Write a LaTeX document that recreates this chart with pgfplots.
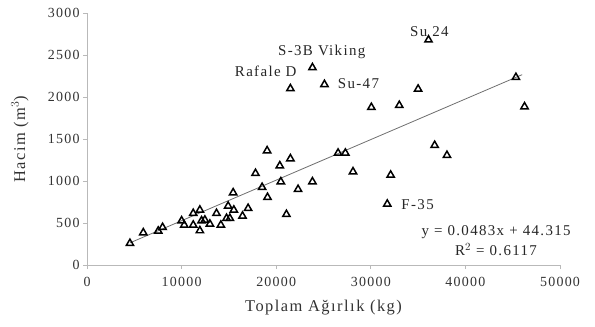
\documentclass[border=0pt]{standalone}
\usepackage{pgfplots}
\pgfplotsset{compat=1.18}
\usepackage{fontspec}
\setmainfont{Liberation Serif}[LetterSpace=9]
\definecolor{axgray}{RGB}{185,185,185}
\definecolor{trendgray}{RGB}{110,110,110}
\begin{document}
\begin{tikzpicture}[x=1bp,y=1bp]
\useasboundingbox (-87,-61) rectangle (508,265);
\begin{axis}[
  at={(0,0)}, anchor=south west,
  scale only axis,
  width=473bp, height=252bp,
  xmin=0, xmax=50000, ymin=0, ymax=3000,
  xtick={0,10000,20000,30000,40000,50000},
  ytick={0,500,1000,1500,2000,2500,3000},
  axis lines=left,
  axis line style={-, draw=axgray, line width=1pt},
  tick style={draw=axgray, line width=1pt},
  tick align=outside,
  major tick length=4bp,
  /pgf/number format/assume math mode=true,
  /pgf/number format/set thousands separator={},
  scaled ticks=false,
  ticklabel style={font=\fontsize{14}{16}\selectfont, text=black!80},
  xticklabel style={yshift=-5bp},
  xlabel={Toplam Ağırlık (kg)},
  ylabel={Hacim (m$^3$)},
  label style={font=\fontsize{16.5}{18}\selectfont, text=black!80},
  xlabel style={at={(axis description cs:0.5,-0.1706)}, anchor=center},
  ylabel style={at={(axis description cs:-0.1416,0.5)}, anchor=center},
  clip=false,
]
\addplot[trendgray, line width=0.8pt] coordinates {(4540,263.6) (46000,2266.1)};
\addplot[only marks, mark=triangle, mark size=4.2bp, mark options={draw=black, line width=1.5pt, fill=white}] coordinates {
(4540,258) (5950,385) (7530,405) (7990,448) (10000,527) (10280,476)
(11230,615) (11230,476) (11930,655) (11930,409) (12110,527) (12460,536)
(12990,488) (13690,615) (14150,476) (14920,702) (14750,556) (15100,556)
(15450,861) (15520,655) (16440,583) (17030,675) (17810,1091) (18510,925)
(19080,806) (19040,1361) (20380,1182) (20490,992) (21080,603) (21500,1266)
(21500,2100) (22310,901) (23830,992) (23830,2350) (25100,2150) (26540,1333)
(27310,1333) (28120,1111) (30060,1877) (31740,726) (32100,1071) (33010,1901)
(35000,2095) (36100,2680) (36750,1425) (38050,1306) (45340,2234) (46250,1885)
};
\begin{scope}[every node/.style={font=\fontsize{15}{17}\selectfont, text=black!85, inner sep=0pt}]
\node at (axis cs:36200,2774) {Su 24};
\node at (axis cs:24815,2536) {S-3B Viking};
\node[anchor=east] at (axis cs:22170,2310) {Rafale D};
\node[anchor=west] at (axis cs:26500,2155) {Su-47};
\node[anchor=west] at (axis cs:33220,722) {F-35};
\node at (axis cs:43240,396) {y = 0.0483x + 44.315};
\node at (axis cs:43240,187) {R$^2$ = 0.6117};
\end{scope}
\end{axis}
\end{tikzpicture}
\end{document}
